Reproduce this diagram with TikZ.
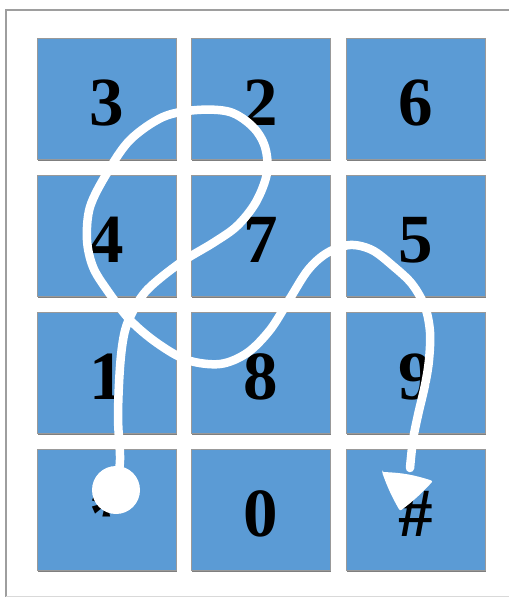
\documentclass[tikz,border=0pt]{standalone}
\usepackage{fontspec}
\setmainfont{Liberation Serif}
\usetikzlibrary{shadows}
\definecolor{keyblue}{HTML}{5B9BD5}
\definecolor{framegray}{HTML}{9E9E9E}
\begin{document}
\begin{tikzpicture}[x=1pt,y=-1pt,
  keybox/.style={fill=keyblue, draw=black!40, line width=0.8pt, minimum width=139pt, minimum height=121pt, inner sep=0pt,
    drop shadow={shadow xshift=1.4pt, shadow yshift=-1.8pt, fill=black, opacity=0.5}},
  digit/.style={anchor=base, inner sep=0pt, font=\bfseries\fontsize{69}{69}\selectfont},
  pathline/.style={draw=white, line width=8.5pt, line cap=round, line join=round}]
\useasboundingbox (0,0) rectangle (509,597);
% frame
\draw[framegray, line width=2pt] (6,597) -- (6,10) -- (509,10);
\draw[black!15, line width=1pt] (6,596) -- (509,596);
% keys
\foreach \name/\lab/\cx/\cy in {a/3/106.5/98.5, b/2/260.5/98.5, c/6/415.5/98.5,
  d/4/106.5/235.5, e/7/260.5/235.5, f/5/415.5/235.5,
  g/1/106.5/372.5, h/8/260.5/372.5, i/9/415.5/372.5,
  j/*/106.5/509.5, k/0/260.5/509.5, l/\#/415.5/509.5}{
  \node[keybox] (key\name) at (\cx,\cy) {};
  \node[digit] (lab\name) at (\cx,\cy+27) {\lab};
}
% white path
\coordinate (start) at (116,490);
\coordinate (tip) at (400,511);
\draw[pathline] plot[smooth, tension=0.55] coordinates {
 (116,490) (120,460) (118,417) (120,367) (124,335) (131,315) (147,290) (180,263) (213,243) (237,226)
 (256,202) (267,173) (265,147) (253,127) (230,112) (197,110) (163,117) (130,140) (107,173)
 (90,207) (87,240) (93,267) (107,290) (130,320) (157,343) (187,360) (220,364) (247,353)
 (270,330) (289,300) (308,270) (327,253) (350,245) (372,250) (393,266) (412,284) (425,307)
 (430,332) (429,360) (425,385) (418,415) (413,440) (410,468)};
\fill[white] (start) circle (24);
\fill[white, rounded corners=2pt] (382,472) to[bend left=8] (433,481) to[bend left=5] (tip) to[bend left=5] cycle;
\end{tikzpicture}
\end{document}
